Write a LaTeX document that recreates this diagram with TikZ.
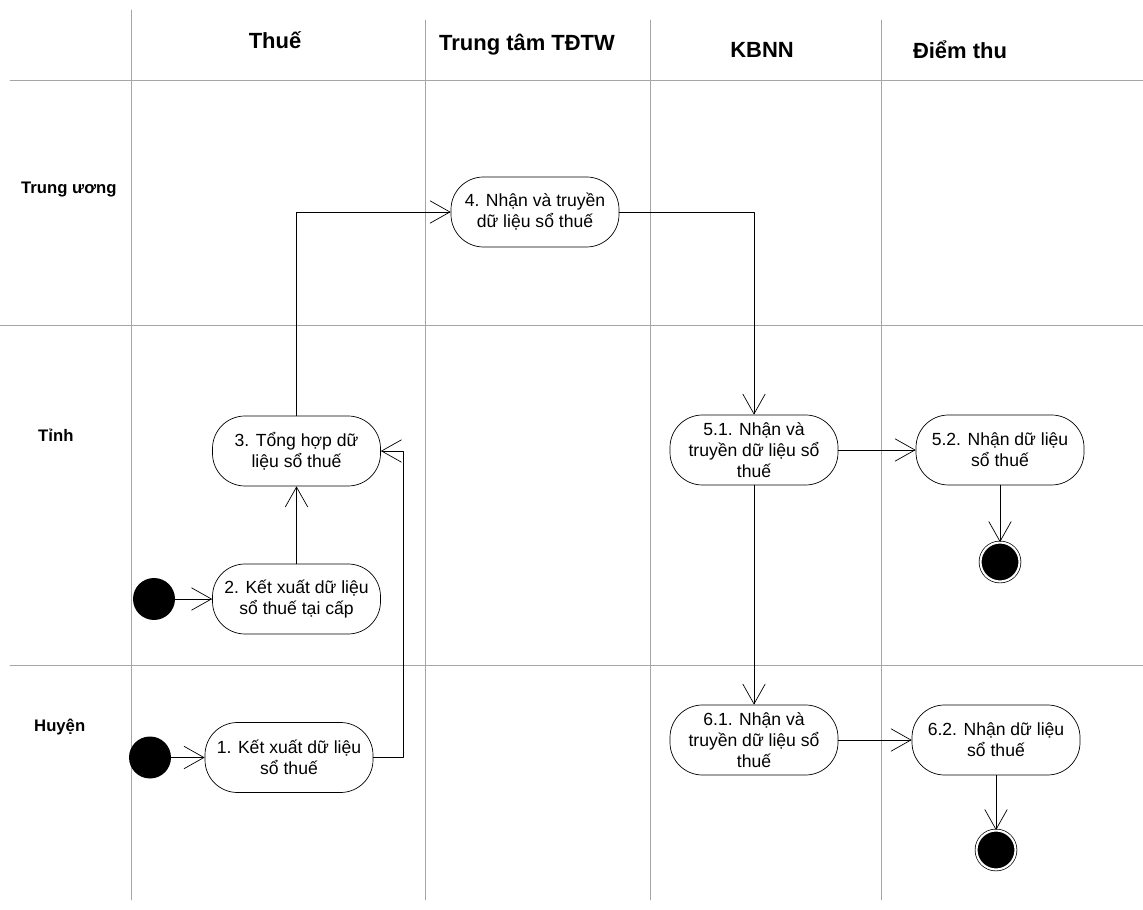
\documentclass[tikz,border=0pt]{standalone}
\usepackage{fontspec}
\setmainfont{Liberation Sans}
\usetikzlibrary{arrows.meta}
\begin{document}
\begin{tikzpicture}[font=\fontsize{10}{12}\selectfont, line join=round, line cap=round,
  >={Straight Barb[length=4mm,width=4.5mm]},
  lane/.style={gray!70, thin},
  act/.style={draw, rounded corners=0.65cm, minimum width=3.36cm, minimum height=1.4cm, align=center, inner sep=2pt},
  startdot/.style={circle, fill, minimum size=0.84cm, inner sep=0pt},
  enddot/.style={circle, draw, fill, minimum size=0.78cm, inner sep=0pt, double=white, double distance=1.2pt},
  lanehead/.style={font=\fontsize{12.5}{14}\selectfont\bfseries},
  rowhead/.style={font=\fontsize{9.5}{11}\selectfont\bfseries, anchor=west}]
\useasboundingbox (0,0) rectangle (22.86,18.18);
% swimlanes
\draw[lane] (2.62,17.98)--(2.62,0.18) (8.5,17.78)--(8.5,0.18)
 (13,17.78)--(13,0.18) (17.62,17.78)--(17.62,0.18);
\draw[lane] (0.2,16.58)--(22.86,16.58) (0,11.68)--(22.86,11.68) (0.2,4.88)--(22.86,4.88);
\node[lanehead] (hthue) at (5.5,17.38) {Thuế};
\node[lanehead] (htt) at (10.54,17.28) {Trung tâm TĐTW};
\node[lanehead] (hkb) at (15.24,17.18) {KBNN};
\node[lanehead] (hdt) at (19.2,17.18) {Điểm thu};
\node[rowhead] (rtw) at (0.3,14.38) {Trung ương};
\node[rowhead] (rtinh) at (0.64,9.48) {Tỉnh};
\node[rowhead] (rhuyen) at (0.56,3.64) {Huyện};
% activities
\node[act] (a4) at (10.7,13.94) {4. Nhận và truyền\\dữ liệu sổ thuế};
\node[act] (a3) at (5.93,9.16) {3. Tổng hợp dữ\\liệu sổ thuế};
\node[act] (a2) at (5.93,6.2) {2. Kết xuất dữ liệu\\sổ thuế tại cấp};
\node[act] (a1) at (5.78,3.03) {1. Kết xuất dữ liệu\\sổ thuế};
\node[act] (a51) at (15.08,9.18) {5.1. Nhận và\\truyền dữ liệu sổ\\thuế};
\node[act] (a52) at (20,9.18) {5.2. Nhận dữ liệu\\sổ thuế};
\node[act] (a61) at (15.08,3.38) {6.1. Nhận và\\truyền dữ liệu sổ\\thuế};
\node[act] (a62) at (19.92,3.38) {6.2. Nhận dữ liệu\\sổ thuế};
\node[startdot] (s2) at (3.08,6.2) {};
\node[startdot] (s1) at (3,3.03) {};
\node[enddot] (e5) at (20,6.94) {};
\node[enddot] (e6) at (19.92,1.18) {};
% flows
\draw[->] (s1)--(a1);
\draw[->] (s2)--(a2);
\draw[->] (a2)--(a3);
\draw[->] (a1.east)--++(0.6,0) |- (a3.east);
\draw[->] (a3.north) |- (a4.west);
\draw[->] (a4.east) -| (a51.north);
\draw[->] (a51)--(a52);
\draw[->] (a51)--(a61);
\draw[->] (a61)--(a62);
\draw[->] (a52)--(e5);
\draw[->] (a62)--(e6);
\end{tikzpicture}
\end{document}
